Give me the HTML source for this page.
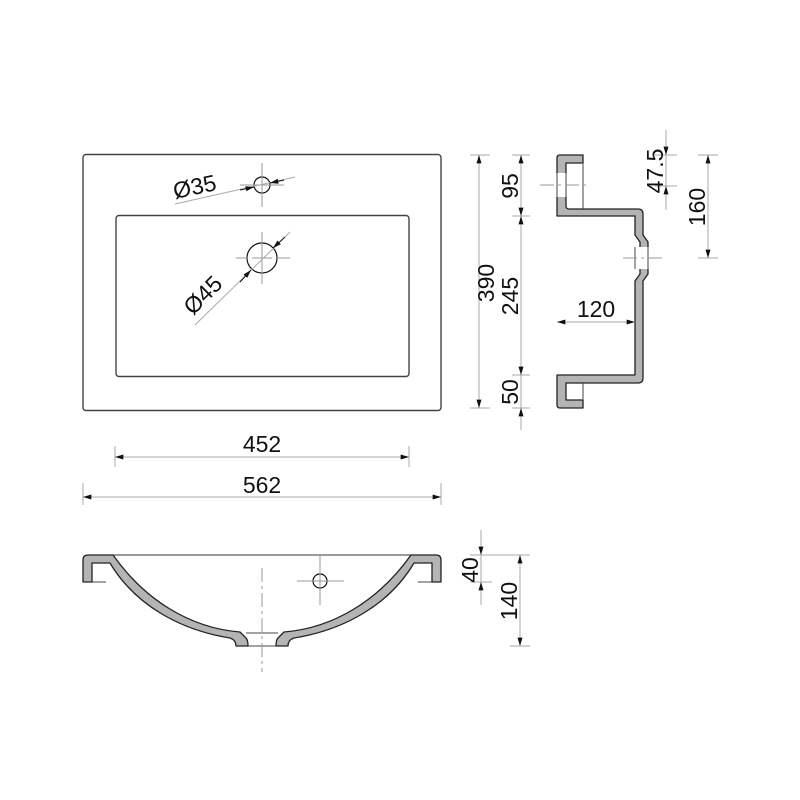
<!DOCTYPE html>
<html><head><meta charset="utf-8"><style>
html,body{margin:0;padding:0;background:#fff}
svg{display:block}
text{font-family:"Liberation Sans",sans-serif;font-size:23px;fill:#111}
.d{stroke:#aaa;stroke-width:1;fill:none}
.o{stroke:#444;stroke-width:1.4;fill:none}
.s{stroke:#222;stroke-width:1.3;fill:#b4b4b4;stroke-linejoin:round}
.c{stroke:#999;stroke-width:1;fill:none}
.dash{stroke:#999;stroke-width:1;stroke-dasharray:14 4 3 4;fill:none}
</style></head><body>
<svg width="800" height="800" viewBox="0 0 800 800" xmlns="http://www.w3.org/2000/svg">
<defs>
<marker id="a" viewBox="0 0 10 6" refX="10" refY="3" markerWidth="13" markerHeight="5" orient="auto-start-reverse" markerUnits="userSpaceOnUse"><path d="M0,0 L10,3 L0,6 Z" fill="#111"/></marker>
</defs>
<!-- top view -->
<rect x="83" y="154.5" width="358" height="256" rx="3" class="o"/>
<rect x="116" y="215.5" width="293" height="161" rx="3" class="o"/>
<circle cx="262" cy="185" r="8" fill="none" stroke="#111" stroke-width="1.2"/>
<path d="M262,163 V207 M240,185 H284" class="c"/>
<circle cx="262" cy="258" r="15" fill="none" stroke="#111" stroke-width="1.2"/>
<path d="M262,232 V284 M236,258 H248 M252,258 H272 M276,258 H290" class="c"/>
<line x1="175" y1="204" x2="295" y2="177" stroke="#aaa" stroke-width="1"/>
<path d="M240,190 L254,187" stroke="#111" stroke-width="1" marker-end="url(#a)"/>
<path d="M284,180 L270,183" stroke="#111" stroke-width="1" marker-end="url(#a)"/>
<text x="175" y="199" transform="rotate(-12 175 199)">Ø35</text>
<line x1="195" y1="325" x2="290" y2="232" stroke="#aaa" stroke-width="1"/>
<path d="M240,282 L251,270" stroke="#111" stroke-width="1" marker-end="url(#a)"/>
<path d="M285,237 L273,248" stroke="#111" stroke-width="1" marker-end="url(#a)"/>
<text x="193" y="316" transform="rotate(-45 193 316)">Ø45</text>
<!-- width dims -->
<path d="M115,446 V467 M409,446 V467 M83,483 V505 M441,483 V505" class="d"/>
<line x1="115" y1="457" x2="409" y2="457" class="d" marker-start="url(#a)" marker-end="url(#a)"/>
<line x1="83" y1="497" x2="441" y2="497" class="d" marker-start="url(#a)" marker-end="url(#a)"/>
<text x="262" y="452" text-anchor="middle">452</text>
<text x="262" y="493" text-anchor="middle">562</text>
<!-- 390 / 95 / 245 / 50 -->
<path d="M470,155 H490 M470,408 H490 M512,155 H530 M512,216 H530 M512,375 H530 M512,408 H530" class="d"/>
<line x1="479" y1="155" x2="479" y2="408" class="d" marker-start="url(#a)" marker-end="url(#a)"/>
<path d="M521,155 V430" class="d"/>
<path d="M521,185 L521,155" class="d" marker-end="url(#a)"/>
<path d="M521,185 L521,216" class="d" marker-end="url(#a)"/>
<path d="M521,260 L521,216" class="d" marker-end="url(#a)"/>
<path d="M521,340 L521,375" class="d" marker-end="url(#a)"/>
<path d="M521,430 L521,408" class="d" marker-end="url(#a)"/>
<text transform="translate(494 283) rotate(-90)" text-anchor="middle">390</text>
<text transform="translate(518 186) rotate(-90)" text-anchor="middle">95</text>
<text transform="translate(518 296) rotate(-90)" text-anchor="middle">245</text>
<text transform="translate(518 392) rotate(-90)" text-anchor="middle">50</text>
<!-- side profile -->
<path class="s" d="M557,158 Q557,155 560,155 H583 V163 H566 V206 Q566,209 569,209 H638 Q643,209 643,214 V235 L648,242 V274 L643,281 V378 Q643,383 638,383 H566 V400 H583 V408 H560 Q557,408 557,405 V375 H635 V281 L640,274 V242 L635,235 V216 H557 Z"/>
<rect x="556" y="173" width="11" height="24" fill="#fff"/>
<path d="M557,173 V197 M566,173 V197" stroke="#444" stroke-width="1"/>
<path d="M583,163 V209 M583,383 V400" stroke="#444" stroke-width="1"/>
<rect x="634" y="247" width="15" height="22" fill="#fff"/>
<path d="M635,247 V269 M648,247 V269" stroke="#444" stroke-width="1"/>
<path d="M540,185 H590 M623,258 H662" class="dash"/>
<line x1="557" y1="322" x2="635" y2="322" class="d" marker-start="url(#a)" marker-end="url(#a)"/>
<text x="596" y="317" text-anchor="middle">120</text>
<!-- 47.5 / 160 -->
<path d="M655,155 H677 M655,186 H677 M698,155 H718 M698,258 H718" class="d"/>
<path d="M666,130 V210" class="d"/>
<path d="M666,138 L666,155" class="d" marker-end="url(#a)"/>
<path d="M666,205 L666,186" class="d" marker-end="url(#a)"/>
<line x1="708" y1="155" x2="708" y2="258" class="d" marker-start="url(#a)" marker-end="url(#a)"/>
<text transform="translate(663 171) rotate(-90)" text-anchor="middle">47.5</text>
<text transform="translate(705 207) rotate(-90)" text-anchor="middle">160</text>
<!-- bottom view -->
<line x1="113" y1="555" x2="411" y2="555" stroke="#333" stroke-width="1"/>
<path d="M92,582 H106 M418,582 H432" stroke="#444" stroke-width="1"/>
<path class="s" d="M83,582 V560 Q83,555 88,555 H113 C145,600 190,628 240,632 L246,638 Q248,640 248,646 H236 Q236,640 230,638 C180,630 135,605 110,563 H92 V582 Z"/>
<path class="s" d="M441,582 V560 Q441,555 436,555 H411 C379,600 334,628 284,632 L278,638 Q276,640 276,646 H288 Q288,640 294,638 C344,630 389,605 414,563 H432 V582 Z"/>
<path d="M246,633 H278 M248,646 H276" stroke="#444" stroke-width="1"/>
<path d="M262,568 V672" class="dash"/>
<circle cx="320" cy="581" r="7" fill="none" stroke="#111" stroke-width="1.2"/>
<path d="M320,555 V605 M297,581 H344" class="c"/>
<!-- 40 / 140 -->
<path d="M470,555 H530 M470,582 H492 M510,646 H530" class="d"/>
<path d="M481,530 V605" class="d"/>
<path d="M481,538 L481,555" class="d" marker-end="url(#a)"/>
<path d="M481,600 L481,582" class="d" marker-end="url(#a)"/>
<line x1="520" y1="555" x2="520" y2="646" class="d" marker-start="url(#a)" marker-end="url(#a)"/>
<text transform="translate(478 570) rotate(-90)" text-anchor="middle">40</text>
<text transform="translate(517 601) rotate(-90)" text-anchor="middle">140</text>
</svg>
</body></html>
